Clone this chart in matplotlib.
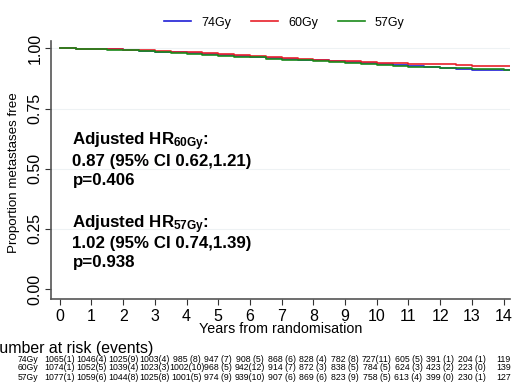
import numpy as np
import matplotlib
matplotlib.use("Agg")
import matplotlib.pyplot as plt
import matplotlib.transforms as mtrans

plt.rcParams['font.family'] = ['Liberation Sans', 'DejaVu Sans']
plt.rcParams['mathtext.fontset'] = 'custom'
plt.rcParams['mathtext.rm'] = 'Liberation Sans'
plt.rcParams['mathtext.bf'] = 'Liberation Sans:bold'
plt.rcParams['mathtext.default'] = 'bf'

# Kaplan-Meier estimates (half-year grid)
times = [0, 0.5, 1, 1.5, 2, 2.5, 3, 3.5, 4, 4.5, 5, 5.5, 6, 6.5, 7, 7.5,
         8, 8.5, 9, 9.5, 10, 10.5, 11, 11.5, 12, 12.5, 13, 13.5, 14, 14.2]
surv_74 = [1.0, 0.999, 0.998, 0.996, 0.993, 0.990, 0.986, 0.983, 0.979, 0.975,
           0.971, 0.968, 0.964, 0.959, 0.955, 0.953, 0.950, 0.947, 0.944, 0.940,
           0.936, 0.931, 0.926, 0.923, 0.920, 0.914, 0.912, 0.911, 0.910, 0.910]
surv_60 = [1.0, 0.999, 0.998, 0.996, 0.994, 0.992, 0.989, 0.986, 0.983, 0.979,
           0.975, 0.972, 0.968, 0.963, 0.958, 0.955, 0.952, 0.949, 0.946, 0.943,
           0.940, 0.938, 0.936, 0.935, 0.933, 0.930, 0.928, 0.926, 0.925, 0.925]
surv_57 = [1.0, 0.999, 0.998, 0.995, 0.992, 0.989, 0.985, 0.981, 0.977, 0.974,
           0.970, 0.966, 0.962, 0.957, 0.953, 0.950, 0.946, 0.942, 0.938, 0.934,
           0.930, 0.926, 0.923, 0.921, 0.919, 0.917, 0.915, 0.913, 0.911, 0.911]

arms = ['74Gy', '60Gy', '57Gy']
colors = ['#1f1fd6', '#e8202a', '#1a8a1a']

years = list(range(15))
risk_74 = ['1065(1)', '1046(4)', '1025(9)', '1003(4)', '985 (8)', '947 (7)', '908 (5)',
           '868 (6)', '828 (4)', '782 (8)', '727(11)', '605 (5)', '391 (1)', '204 (1)', '119']
risk_60 = ['1074(1)', '1052(5)', '1039(4)', '1023(3)', '1002(10)', '968 (5)', '942(12)',
           '914 (7)', '872 (3)', '838 (5)', '784 (5)', '624 (3)', '423 (2)', '223 (0)', '139']
risk_57 = ['1077(1)', '1059(6)', '1044(8)', '1025(8)', '1001(5)', '974 (9)', '939(10)',
           '907 (6)', '869 (6)', '823 (9)', '758 (5)', '613 (4)', '399 (0)', '230 (1)', '127']

fig = plt.figure(figsize=(5.14, 3.88), dpi=100)
ax = fig.add_axes([0.099, 0.229, 0.893, 0.665])

for s, c, lab in zip([surv_74, surv_60, surv_57], colors, arms):
    ax.step(times, s, where='post', color=c, lw=1.2, label=lab)

ax.set_xlim(-0.28, 14.2)
ax.set_ylim(-0.042, 1.03)
ax.set_xticks(years)
ax.set_yticks([0, 0.25, 0.5, 0.75, 1.0])
ax.set_yticklabels(['0.00', '0.25', '0.50', '0.75', '1.00'], rotation=90, va='center')
for y in [0.25, 0.5, 0.75, 1.0]:
    ax.axhline(y, color='#eef2f4', lw=0.8, zorder=0)
ax.tick_params(labelsize=11.5, length=4, color='#333333')
ax.tick_params(axis='x', pad=3)
ax.tick_params(axis='y', pad=2)
for sp in ['top', 'right']:
    ax.spines[sp].set_visible(False)
for sp in ['left', 'bottom']:
    ax.spines[sp].set_color('#555555')
    ax.spines[sp].set_linewidth(1.2)
ax.set_xlabel('Years from randomisation', fontsize=10.3, labelpad=-1)
ax.set_ylabel('Proportion metastases free', fontsize=9.6)
ax.yaxis.set_label_coords(-0.067, 0.49)

ax.legend(loc='lower center', bbox_to_anchor=(0.509, 1.0), ncol=3, frameon=False,
          fontsize=9, handlelength=2.15, handletextpad=0.8, columnspacing=1.6,
          borderaxespad=0.6)

txt = dict(fontsize=12.2, fontweight='bold', transform=ax.transAxes, va='center')
ax.text(0.047, 0.61, r'Adjusted HR$_{60Gy}$:', **txt)
ax.text(0.047, 0.535, '0.87 (95% CI 0.62,1.21)', **txt)
ax.text(0.047, 0.461, 'p=0.406', **txt)
ax.text(0.047, 0.287, r'Adjusted HR$_{57Gy}$:', **txt)
ax.text(0.047, 0.215, '1.02 (95% CI 0.74,1.39)', **txt)
ax.text(0.047, 0.141, 'p=0.938', **txt)

fig.text(-0.024, 1 - 348 / 388, 'Number at risk (events)', fontsize=11.4, va='center')
blend = mtrans.blended_transform_factory(ax.transData, fig.transFigure)
row_y = [359, 368, 377]
for arm, row, yp in zip(arms, [risk_74, risk_60, risk_57], row_y):
    yf = 1 - yp / 388
    fig.text(0.035, yf, arm, fontsize=6.2, va='center')
    for yr, v in zip(years, row):
        ax.text(yr, yf, v, transform=blend, fontsize=6.3, ha='center', va='center',
                clip_on=False)

fig.savefig('out.png', dpi=100)
